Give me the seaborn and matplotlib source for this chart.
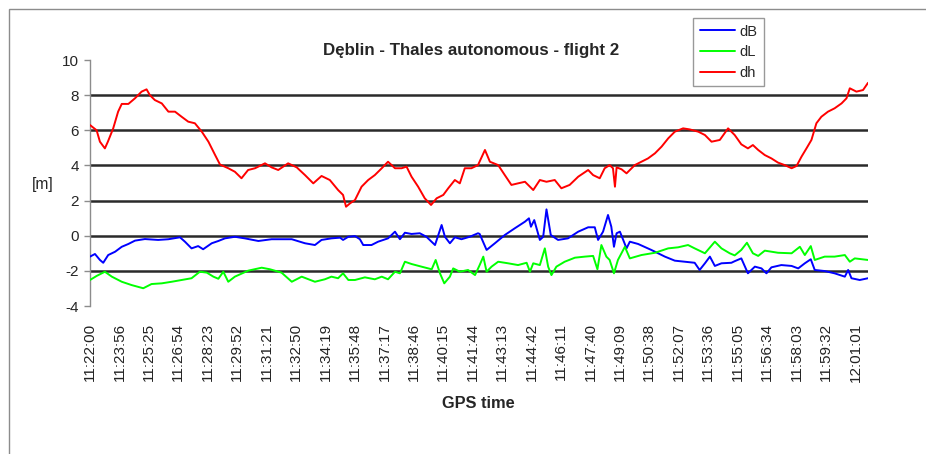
import numpy as np
import pandas as pd
import matplotlib
matplotlib.use("Agg")
import matplotlib.pyplot as plt
from matplotlib.patches import Rectangle
import seaborn as sns

# Data (x = record number, 89 records per label step)
time_labels = ["11:22:00", "11:23:56", "11:25:25", "11:26:54", "11:28:23", "11:29:52",
               "11:31:21", "11:32:50", "11:34:19", "11:35:48", "11:37:17", "11:38:46",
               "11:40:15", "11:41:44", "11:43:13", "11:44:42", "11:46:11", "11:47:40",
               "11:49:09", "11:50:38", "11:52:07", "11:53:36", "11:55:05", "11:56:34",
               "11:58:03", "11:59:32", "12:01:01"]
label_step = 89

dh_x = [0, 20, 30, 45, 54, 70, 85, 96, 116, 136, 156, 171, 181, 196, 217, 237, 257, 277, 297,
        317, 338, 358, 378, 393, 418, 438, 458, 478, 499, 529, 549, 569, 599, 625, 650, 675,
        700, 725, 750, 765, 774, 786, 801, 821, 841, 861, 882, 901, 922, 942, 957, 972, 992,
        1012, 1031, 1048, 1068, 1083, 1103, 1118, 1133, 1153, 1173, 1194, 1209, 1234, 1254,
        1274, 1294, 1315, 1340, 1360, 1380, 1405, 1425, 1450, 1476, 1506, 1521, 1541, 1556,
        1571, 1581, 1587, 1592, 1607, 1622, 1647, 1667, 1687, 1708, 1728, 1748, 1768, 1793,
        1813, 1839, 1859, 1879, 1904, 1929, 1949, 1969, 1989, 2004, 2020, 2040, 2060, 2080,
        2100, 2121, 2136, 2151, 2166, 2181, 2196, 2211, 2231, 2251, 2272, 2287, 2297, 2317,
        2337, 2352]
dh = [6.3, 6.0, 5.35, 4.97, 5.35, 6.1, 7.06, 7.5, 7.5, 7.82, 8.2, 8.33, 8.0, 7.72, 7.53, 7.06,
      7.06, 6.77, 6.49, 6.4, 5.92, 5.35, 4.6, 4.05, 3.84, 3.64, 3.27, 3.74, 3.84, 4.12, 3.89,
      3.74, 4.12, 3.89, 3.45, 2.98, 3.4, 3.17, 2.6, 2.32, 1.65, 1.84, 2.03, 2.79, 3.17, 3.45,
      3.84, 4.21, 3.84, 3.84, 3.93, 3.36, 2.79, 2.13, 1.75, 2.13, 2.32, 2.7, 3.17, 2.98, 3.84,
      3.84, 4.02, 4.88, 4.21, 4.02, 3.45, 2.89, 2.98, 3.07, 2.6, 3.17, 3.07, 3.17, 2.7, 2.89,
      3.36, 3.74, 3.45, 3.27, 3.84, 4.02, 3.84, 2.79, 3.89, 3.78, 3.55, 4.02, 4.21, 4.4, 4.69,
      5.07, 5.54, 5.92, 6.11, 6.05, 5.92, 5.73, 5.35, 5.45, 6.11, 5.73, 5.2, 4.97, 5.16, 4.88,
      4.59, 4.4, 4.16, 4.02, 3.84, 3.97, 4.5, 4.97, 5.45, 6.4, 6.77, 7.06, 7.25, 7.53, 7.82,
      8.39, 8.2, 8.29, 8.7]

dB_x = [0, 15, 30, 40, 55, 76, 96, 116, 136, 166, 206, 237, 272, 287, 307, 327, 342, 368, 388,
        408, 438, 468, 509, 549, 610, 650, 680, 700, 730, 756, 765, 781, 801, 816, 826, 851,
        871, 901, 922, 937, 952, 972, 997, 1017, 1043, 1063, 1073, 1088, 1103, 1123, 1148,
        1173, 1178, 1199, 1224, 1254, 1284, 1315, 1327, 1333, 1343, 1360, 1370, 1380, 1393,
        1415, 1445, 1476, 1506, 1526, 1536, 1551, 1566, 1576, 1584, 1592, 1602, 1612, 1622,
        1632, 1657, 1697, 1738, 1768, 1798, 1828, 1843, 1859, 1874, 1889, 1909, 1939, 1949,
        1969, 1989, 2010, 2030, 2045, 2060, 2090, 2121, 2141, 2161, 2179, 2191, 2221, 2251,
        2282, 2292, 2302, 2327, 2352]
dB = [-1.19, -1.04, -1.38, -1.54, -1.1, -0.91, -0.63, -0.47, -0.28, -0.19, -0.24, -0.2, -0.09,
      -0.34, -0.72, -0.59, -0.77, -0.43, -0.3, -0.15, -0.06, -0.15, -0.3, -0.2, -0.2, -0.43,
      -0.53, -0.24, -0.15, -0.11, -0.24, -0.06, -0.02, -0.2, -0.53, -0.53, -0.34, -0.15, 0.23,
      -0.2, 0.17, 0.1, 0.14, -0.06, -0.53, 0.61, -0.06, -0.43, -0.09, -0.2, -0.06, 0.14, 0.1,
      -0.81, -0.43, 0.04, 0.42, 0.8, 0.99, 0.51, 0.89, -0.24, -0.06, 1.5, 0.04, -0.24, -0.15,
      0.23, 0.48, 0.48, -0.24, 0.23, 1.18, 0.51, -0.63, 0.14, 0.23, -0.24, -0.72, -0.34,
      -0.47, -0.81, -1.19, -1.42, -1.48, -1.54, -1.95, -1.57, -1.19, -1.72, -1.57, -1.54,
      -1.45, -1.29, -2.14, -1.76, -1.86, -2.14, -1.8, -1.67, -1.72, -1.86, -1.57, -1.34,
      -1.95, -2.01, -2.14, -2.33, -1.95, -2.42, -2.52, -2.42]

dL_x = [0, 20, 45, 66, 96, 126, 161, 186, 217, 247, 277, 307, 332, 353, 373, 388, 403, 418,
        438, 478, 519, 544, 579, 610, 640, 680, 710, 730, 750, 765, 781, 801, 831, 861, 882,
        901, 922, 937, 952, 972, 1002, 1033, 1045, 1058, 1071, 1088, 1098, 1118, 1143, 1164,
        1178, 1189, 1199, 1214, 1234, 1264, 1294, 1320, 1330, 1340, 1360, 1375, 1385, 1395,
        1410, 1435, 1466, 1496, 1521, 1534, 1546, 1561, 1571, 1584, 1596, 1617, 1632, 1667,
        1708, 1748, 1778, 1808, 1828, 1859, 1889, 1909, 1934, 1949, 1969, 1986, 2004, 2020,
        2040, 2080, 2121, 2146, 2161, 2179, 2191, 2221, 2251, 2282, 2297, 2312, 2352]
dL = [-2.52, -2.29, -2.05, -2.33, -2.62, -2.81, -2.99, -2.75, -2.71, -2.62, -2.52, -2.42,
      -2.05, -2.1, -2.33, -2.45, -2.05, -2.62, -2.33, -1.99, -1.82, -1.91, -2.1, -2.62, -2.33,
      -2.62, -2.48, -2.33, -2.42, -2.14, -2.52, -2.52, -2.37, -2.48, -2.33, -2.48, -2.05,
      -2.14, -1.48, -1.61, -1.76, -1.91, -1.38, -2.14, -2.71, -2.33, -1.86, -2.05, -1.95,
      -2.24, -1.67, -1.19, -2.05, -1.76, -1.48, -1.57, -1.67, -1.54, -2.05, -1.57, -1.67,
      -0.72, -1.76, -2.24, -1.76, -1.48, -1.25, -1.19, -1.15, -1.91, -0.53, -1.19, -1.38,
      -2.14, -1.38, -0.63, -1.29, -1.1, -0.97, -0.72, -0.66, -0.53, -0.72, -1.0, -0.34, -0.72,
      -1.0, -1.12, -0.81, -0.4, -1.0, -1.15, -0.85, -0.97, -1.0, -0.63, -1.1, -0.59, -1.38,
      -1.19, -1.19, -1.1, -1.48, -1.29, -1.38]

df = pd.concat([
    pd.DataFrame({"record": dB_x, "value": dB, "series": "dB"}),
    pd.DataFrame({"record": dL_x, "value": dL, "series": "dL"}),
    pd.DataFrame({"record": dh_x, "value": dh, "series": "dh"}),
])

sns.set_style("white")
plt.rcParams["font.family"] = ["Liberation Sans", "DejaVu Sans"]
plt.rcParams["axes.unicode_minus"] = False

fig = plt.figure(figsize=(9.26, 4.54), dpi=100)
ax = fig.add_axes([90 / 926, 1 - 306 / 454, 778 / 926, 246 / 454])

# chart frame (only top and left edges visible in the reference)
fig.patches.append(Rectangle((9 / 926, -0.5), 1.2, 1.5 - 9 / 454, transform=fig.transFigure,
                             fill=False, edgecolor="#8c8c8c", linewidth=1.0))

for g in [8, 6, 4, 2, 0, -2]:
    ax.axhline(g, color="#2a2a2a", linewidth=1.8, zorder=1)

colors = {"dB": "#0000ff", "dL": "#00ff00", "dh": "#ff0000"}
sns.lineplot(data=df, x="record", y="value", hue="series", palette=colors,
             estimator=None, sort=False, linewidth=1.4, legend=False, ax=ax, zorder=3)

ax.set_xlim(0, 2352)
ax.set_ylim(-4, 10)
ax.set_yticks(range(-4, 11, 2))
ax.set_xticks(np.arange(len(time_labels)) * label_step)
ax.set_xticklabels(time_labels, rotation=90, fontsize=11, color="#222222")
ax.tick_params(axis="x", length=0, pad=12)
ax.tick_params(axis="y", length=4, color="#8c8c8c", width=1, direction="out", labelsize=11, pad=4)
ax.yaxis.set_ticks_position("left")
for s in ["top", "right", "bottom"]:
    ax.spines[s].set_visible(False)
ax.spines["left"].set_color("#8c8c8c")
ax.spines["left"].set_linewidth(1.0)
ax.set_xlabel("")
ax.set_ylabel("")

fig.text(471 / 926, 1 - 50 / 454, "Dęblin - Thales autonomous - flight 2", ha="center",
         va="center", fontsize=12.2, fontweight="bold")
fig.text(478.5 / 926, 1 - 403 / 454, "GPS time", ha="center", va="center", fontsize=11.8,
         fontweight="bold")
fig.text(42.5 / 926, 1 - 185 / 454, "[m]", ha="center", va="center", fontsize=11.2)

handles = ax.get_lines()[-3:]
leg = fig.legend(handles, ["dB", "dL", "dh"], loc="upper left",
                 bbox_to_anchor=(693 / 926, 1 - 18 / 454), frameon=True, fancybox=False,
                 fontsize=10.5, handlelength=2.4, handletextpad=0.3, borderpad=0.45,
                 labelspacing=0.45, borderaxespad=0)
leg.get_frame().set_edgecolor("#808080")
leg.get_frame().set_linewidth(1.0)

fig.savefig("out.png", dpi=100)
